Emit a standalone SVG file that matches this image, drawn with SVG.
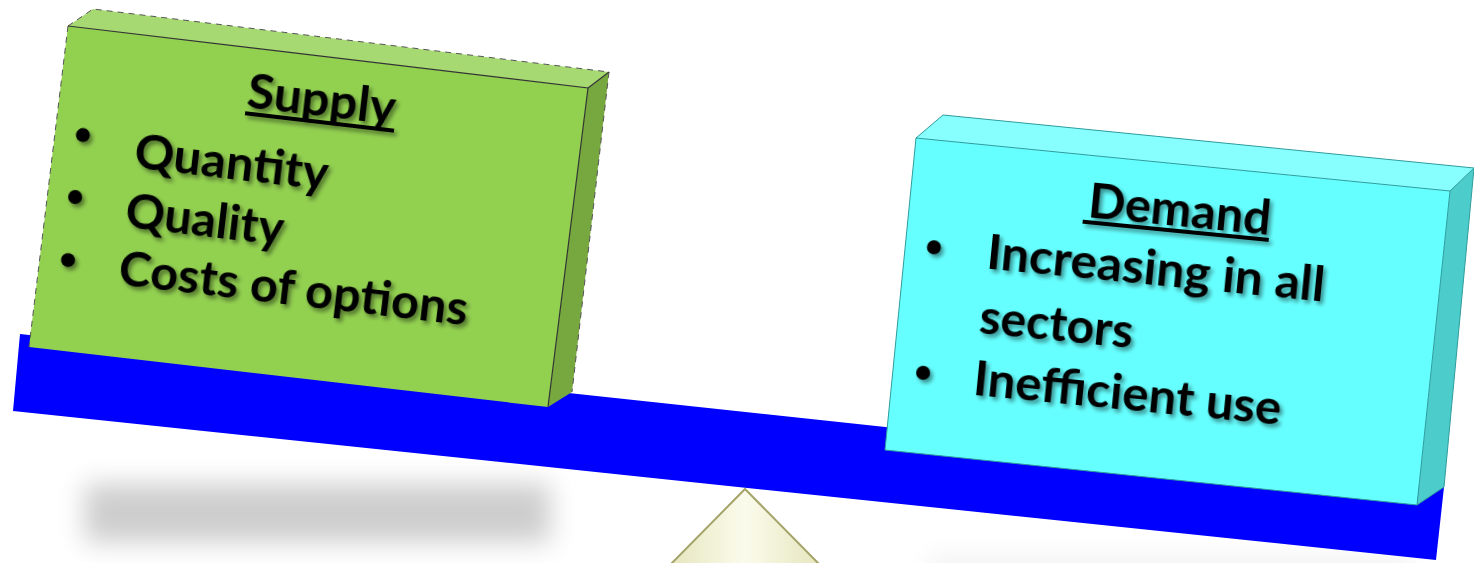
<svg xmlns="http://www.w3.org/2000/svg" width="1474" height="563" viewBox="0 0 1474 563">
  <defs>
    <style>
      .lbl { font-family: Lato, "Open Sans", "Liberation Sans", sans-serif; font-weight: bold; font-size: 47px; fill: #000; }
      .edge { fill: none; stroke: #333; stroke-width: 1.2; }
      .dash { fill: none; stroke: #555; stroke-width: 1; stroke-dasharray: 6 5; }
      .cedge { fill: none; stroke: #2E9C9C; stroke-width: 1; }
    </style>
    <filter id="ts" x="-10%" y="-30%" width="130%" height="170%">
      <feGaussianBlur in="SourceAlpha" stdDeviation="2"/>
      <feOffset dx="3" dy="3" result="o"/>
      <feComponentTransfer><feFuncA type="linear" slope="0.45"/></feComponentTransfer>
      <feMerge><feMergeNode/><feMergeNode in="SourceGraphic"/></feMerge>
    </filter>
    <filter id="blur" x="-20%" y="-100%" width="140%" height="300%">
      <feGaussianBlur stdDeviation="13"/>
    </filter>
    <linearGradient id="tri" x1="0" y1="0" x2="1" y2="0">
      <stop offset="0" stop-color="#E6E6BE"/>
      <stop offset="0.5" stop-color="#FBFBEC"/>
      <stop offset="1" stop-color="#E6E6BE"/>
    </linearGradient>
  </defs>

  <rect width="1474" height="563" fill="#ffffff"/>

  <g id="shadows">
    <rect x="85" y="484" width="465" height="58" fill="#cdcdcd" filter="url(#blur)"/>
    <rect x="930" y="558" width="480" height="30" fill="#f0f0f0" filter="url(#blur)"/>
  </g>

  <g id="fulcrum">
    <polygon points="745,489 820,565 670,565" fill="url(#tri)" stroke="#A3A36A" stroke-width="2"/>
  </g>

  <g id="beam">
    <polygon points="20,334 1444,487 1436,560 13,411" fill="#0000FF"/>
  </g>

  <g id="supply">
    <polygon points="68,26 93,9 609,72 588,88" fill="#A6D972"/>
    <polygon points="588,88 609,72 572,392 548,407" fill="#77A83F"/>
    <polygon points="68,26 588,88 548,407 29,347" fill="#92D050"/>
    <polyline class="dash" points="68,26 93,9 609,72 572,392"/>
    <polyline class="dash" points="68,26 29,347"/>
    <polyline class="edge" points="68,26 588,88 548,407"/>
    <line class="edge" x1="588" y1="88" x2="609" y2="72"/>
    <g transform="rotate(6.69 68 26)" filter="url(#ts)">
      <text class="lbl" x="254" y="86" textLength="149" lengthAdjust="spacingAndGlyphs">Supply</text>
      <rect x="254" y="90" width="150" height="4" fill="#000"/>
      <circle cx="95.5" cy="132.6" r="7"/>
      <circle cx="95" cy="195" r="7"/>
      <circle cx="95.3" cy="258.4" r="7"/>
      <text class="lbl" x="149" y="159" textLength="195" lengthAdjust="spacingAndGlyphs">Quantity</text>
      <text class="lbl" x="147" y="219" textLength="159" lengthAdjust="spacingAndGlyphs">Quality</text>
      <text class="lbl" x="147" y="277" textLength="351" lengthAdjust="spacingAndGlyphs">Costs of options</text>
    </g>
  </g>

  <g id="demand">
    <polygon points="916,138 943,115 1474,168 1450,191" fill="#88FFFF"/>
    <polygon points="1450,191 1474,168 1444,487 1417,505" fill="#4DCCCC"/>
    <polygon points="916,138 1450,191 1417,505 885,450" fill="#66FFFF"/>
    <polygon class="cedge" points="916,138 943,115 1474,168 1444,487 1417,505 885,450"/>
    <polyline class="cedge" points="916,138 1450,191 1417,505"/>
    <line class="cedge" x1="1450" y1="191" x2="1474" y2="168"/>
    <g transform="rotate(5.6 916 138)" filter="url(#ts)">
      <text class="lbl" x="1094" y="200" textLength="183" lengthAdjust="spacingAndGlyphs">Demand</text>
      <rect x="1090" y="203" width="187" height="4" fill="#000"/>
      <circle cx="944.5" cy="245" r="7"/>
      <circle cx="946" cy="371" r="7"/>
      <text class="lbl" x="998" y="261" textLength="339" lengthAdjust="spacingAndGlyphs">Increasing in all</text>
      <text class="lbl" x="997" y="326" textLength="154" lengthAdjust="spacingAndGlyphs">sectors</text>
      <text class="lbl" x="997" y="388" textLength="309" lengthAdjust="spacingAndGlyphs">Inefficient use</text>
    </g>
  </g>

  <g id="connectors"/>
</svg>
